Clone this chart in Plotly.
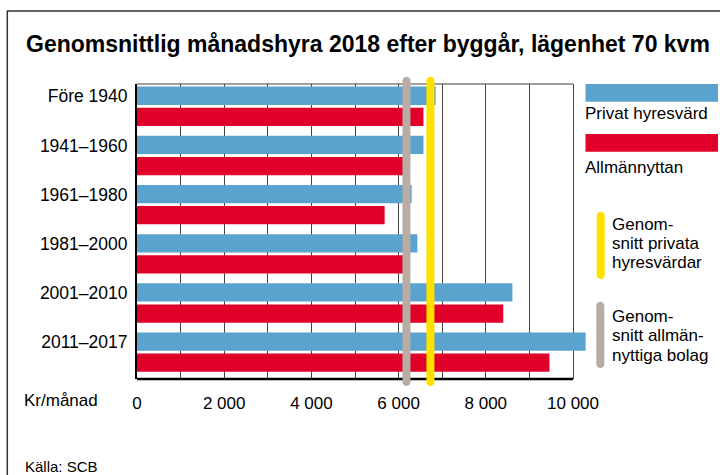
import plotly.graph_objects as go

# ---- data ----
categories = ["Före 1940", "1941–1960", "1961–1980", "1981–2000", "2001–2010", "2011–2017"]
privat = [6850, 6570, 6300, 6430, 8610, 10290]
allmannyttan = [6570, 6100, 5680, 6100, 8400, 9460]
avg_privat = 6730
avg_allman = 6180
tick_vals = [0, 2000, 4000, 6000, 8000, 10000]
tick_text = ["0", "2 000", "4 000", "6 000", "8 000", "10 000"]
axis_end = 10000

BLUE = "#5BA3CF"
RED = "#E0002A"
YELLOW = "#FFE000"
GREY = "#B8ACA5"
FONT = "Liberation Sans, Arial, sans-serif"

W, H = 720, 475
L, R, T, B = 137, 134, 84, 96
PW, PH = W - L - R, H - T - B
X_MAX = axis_end * PW / 436.0  # 436 px spans 0..10000


def px(xp):
    return (xp - L) / PW


def py(yp):
    return (H - B - yp) / PH


fig = go.Figure()
fig.add_trace(go.Bar(y=categories, x=privat, orientation="h", name="Privat hyresvärd",
                     marker=dict(color=BLUE, line=dict(width=0))))
fig.add_trace(go.Bar(y=categories, x=allmannyttan, orientation="h", name="Allmännyttan",
                     marker=dict(color=RED, line=dict(width=0))))


def pill(xref, xanchor, ytop_px, ybot_px, color):
    r = 4.0
    rp = r / PH
    k = (4.0 / 3.0 * r) / PH
    yt = py(ytop_px) - rp
    yb = py(ybot_px) + rp
    path = (f"M {-r},{yb} L {-r},{yt} C {-r},{yt + k} {r},{yt + k} {r},{yt} "
            f"L {r},{yb} C {r},{yb - k} {-r},{yb - k} {-r},{yb} Z")
    return dict(type="path", xref=xref, yref="paper", xsizemode="pixel", xanchor=xanchor,
                path=path, fillcolor=color, line=dict(width=0), layer="above")


shapes = []
# outer frame
shapes.append(dict(type="rect", xref="paper", yref="paper", x0=px(7.3), x1=px(740),
                   y0=py(500), y1=py(11), line=dict(color="#333333", width=1.5),
                   fillcolor="rgba(0,0,0,0)", layer="below"))
# top border of plot
shapes.append(dict(type="line", xref="x", yref="paper", x0=0, x1=axis_end, y0=1, y1=1,
                   line=dict(color="#808080", width=1.5), layer="below"))
# bottom axis line
shapes.append(dict(type="line", xref="x", yref="paper", x0=0, x1=axis_end, y0=0, y1=0,
                   line=dict(color="#000000", width=2.5), layer="above"))
# average lines
shapes.append(pill("x", avg_allman, 76.7, 386, GREY))
shapes.append(pill("x", avg_privat, 76.7, 386, YELLOW))
# legend
shapes.append(dict(type="rect", xref="paper", yref="paper", x0=px(585.5), x1=px(718),
                   y0=py(101.7), y1=py(84), fillcolor=BLUE, line=dict(width=0)))
shapes.append(dict(type="rect", xref="paper", yref="paper", x0=px(585.5), x1=px(718),
                   y0=py(151.7), y1=py(134), fillcolor=RED, line=dict(width=0)))
shapes.append(pill("paper", px(600.7), 211.7, 279, YELLOW))
shapes.append(pill("paper", px(600.3), 301.7, 368, GREY))

annotations = []


def txt(text, xp, yp, size=17, anchor="left", bold=False):
    annotations.append(dict(text=f"<b>{text}</b>" if bold else text, xref="paper", yref="paper",
                            x=px(xp), y=py(yp), xanchor=anchor, yanchor="middle",
                            showarrow=False, font=dict(family=FONT, size=size, color="#000000")))


txt("Genomsnittlig månadshyra 2018 efter byggår, lägenhet 70 kvm", 24, 44, size=23, bold=True)
txt("Privat hyresvärd", 583, 113.5)
txt("Allmännyttan", 583, 167)
for i, line in enumerate(["Genom-", "snitt privata", "hyresvärdar"]):
    txt(line, 610, 224 + i * 19.4)
for i, line in enumerate(["Genom-", "snitt allmän-", "nyttiga bolag"]):
    txt(line, 610, 316.7 + i * 19.2)
txt("Kr/månad", 22, 400)
txt("Källa: SCB", 23, 466, size=15)

fig.update_layout(
    width=W, height=H,
    margin=dict(l=L, r=R, t=T, b=B, pad=0),
    paper_bgcolor="white", plot_bgcolor="white",
    showlegend=False,
    barmode="group", bargap=0.142, bargroupgap=0.133,
    shapes=shapes, annotations=annotations,
    font=dict(family=FONT, size=17, color="#000000"),
)
fig.update_xaxes(
    range=[0, X_MAX], tickvals=tick_vals, ticktext=tick_text,
    showgrid=True, gridcolor="#444444", gridwidth=1,
    minor=dict(dtick=1000, tick0=0, showgrid=True, gridcolor="#444444", gridwidth=1),
    showline=False,
    ticks="", ticklabelstandoff=12, zeroline=False,
    tickfont=dict(family=FONT, size=17, color="#000000"),
    layer="below traces",
)
fig.update_yaxes(
    type="category", range=[5.5455, -0.4535],
    showgrid=False, showline=True, linecolor="#000000", linewidth=2,
    ticks="", ticklabelstandoff=4, ticklabelshift=10,
    tickfont=dict(family=FONT, size=17.5, color="#000000"),
    layer="below traces",
)

fig.write_html("out.html", config={"displayModeBar": False},
               post_script="document.body.style.margin='0';document.body.style.overflow='hidden';")
